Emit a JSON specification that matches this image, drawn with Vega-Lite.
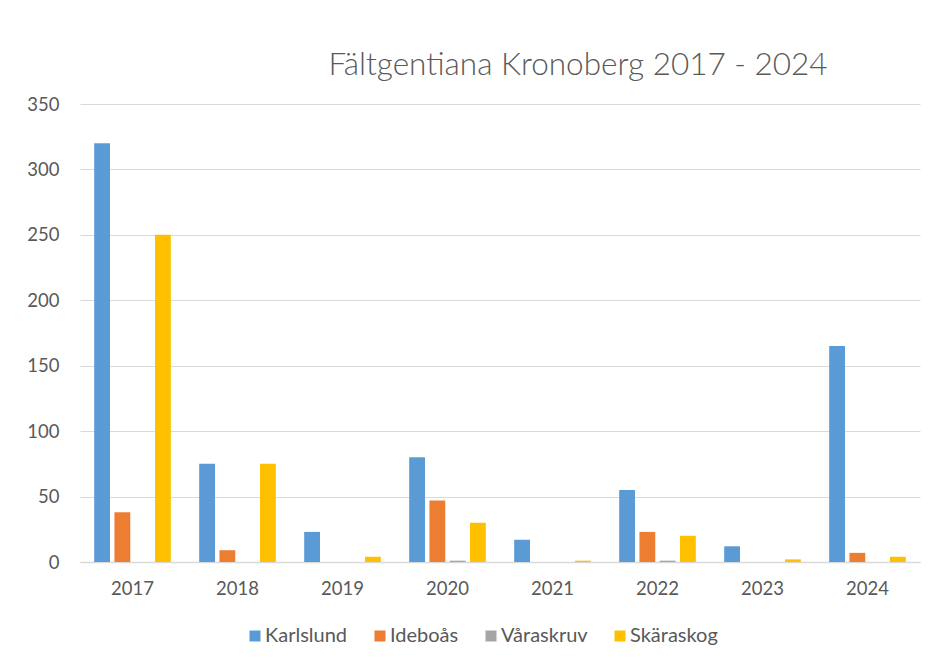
{
  "$schema": "https://vega.github.io/schema/vega-lite/v6.json",
  "width": 840,
  "height": 458,
  "autosize": {"type": "none"},
  "padding": {"left": 80, "top": 104, "right": 11, "bottom": 106},
  "background": "white",
  "title": {
    "text": "Fältgentiana Kronoberg 2017 - 2024",
    "font": "Lato",
    "fontSize": 31.5,
    "fontWeight": 300,
    "color": "#595959",
    "anchor": "middle",
    "dx": 78,
    "offset": 14
  },
  "data": {
    "values": [
      {"year": "2017", "site": "Karlslund", "count": 320},
      {"year": "2017", "site": "Ideboås", "count": 38},
      {"year": "2017", "site": "Våraskruv", "count": 0},
      {"year": "2017", "site": "Skäraskog", "count": 250},
      {"year": "2018", "site": "Karlslund", "count": 75},
      {"year": "2018", "site": "Ideboås", "count": 9},
      {"year": "2018", "site": "Våraskruv", "count": 0},
      {"year": "2018", "site": "Skäraskog", "count": 75},
      {"year": "2019", "site": "Karlslund", "count": 23},
      {"year": "2019", "site": "Ideboås", "count": 0},
      {"year": "2019", "site": "Våraskruv", "count": 0},
      {"year": "2019", "site": "Skäraskog", "count": 4},
      {"year": "2020", "site": "Karlslund", "count": 80},
      {"year": "2020", "site": "Ideboås", "count": 47},
      {"year": "2020", "site": "Våraskruv", "count": 1},
      {"year": "2020", "site": "Skäraskog", "count": 30},
      {"year": "2021", "site": "Karlslund", "count": 17},
      {"year": "2021", "site": "Ideboås", "count": 0},
      {"year": "2021", "site": "Våraskruv", "count": 0},
      {"year": "2021", "site": "Skäraskog", "count": 1},
      {"year": "2022", "site": "Karlslund", "count": 55},
      {"year": "2022", "site": "Ideboås", "count": 23},
      {"year": "2022", "site": "Våraskruv", "count": 1},
      {"year": "2022", "site": "Skäraskog", "count": 20},
      {"year": "2023", "site": "Karlslund", "count": 12},
      {"year": "2023", "site": "Ideboås", "count": 0},
      {"year": "2023", "site": "Våraskruv", "count": 0},
      {"year": "2023", "site": "Skäraskog", "count": 2},
      {"year": "2024", "site": "Karlslund", "count": 165},
      {"year": "2024", "site": "Ideboås", "count": 7},
      {"year": "2024", "site": "Våraskruv", "count": 0},
      {"year": "2024", "site": "Skäraskog", "count": 4}
    ]
  },
  "mark": {"type": "bar"},
  "encoding": {
    "x": {
      "field": "year",
      "type": "nominal",
      "title": null,
      "scale": {"paddingInner": 0.27, "paddingOuter": 0.135},
      "axis": {
        "labelAngle": 0,
        "ticks": false,
        "domainColor": "#d9d9d9",
        "domainWidth": 1.5,
        "labelFont": "Lato",
        "labelFontSize": 18.5,
        "labelColor": "#595959",
        "labelPadding": 17,
        "grid": false
      }
    },
    "xOffset": {
      "field": "site",
      "type": "nominal",
      "sort": ["Karlslund", "Ideboås", "Våraskruv", "Skäraskog"],
      "scale": {"paddingInner": 0.22, "paddingOuter": 0}
    },
    "y": {
      "field": "count",
      "type": "quantitative",
      "title": null,
      "scale": {"domain": [0, 350], "nice": false},
      "axis": {
        "values": [0, 50, 100, 150, 200, 250, 300, 350],
        "ticks": false,
        "domain": false,
        "gridColor": "#d9d9d9",
        "gridWidth": 1.2,
        "labelFont": "Lato",
        "labelFontSize": 18.5,
        "labelColor": "#595959",
        "labelPadding": 21
      }
    },
    "color": {
      "field": "site",
      "type": "nominal",
      "sort": ["Karlslund", "Ideboås", "Våraskruv", "Skäraskog"],
      "scale": {
        "domain": ["Karlslund", "Ideboås", "Våraskruv", "Skäraskog"],
        "range": ["#5B9BD5", "#ED7D31", "#A5A5A5", "#FFC000"]
      },
      "legend": {
        "title": null,
        "orient": "none",
        "legendX": 165,
        "legendY": 522,
        "direction": "horizontal",
        "symbolType": "square",
        "symbolSize": 121,
        "symbolStrokeWidth": 0,
        "labelFont": "Lato",
        "labelFontSize": 20,
        "labelColor": "#595959",
        "labelOffset": 0,
        "columnPadding": 22
      }
    }
  },
  "config": {"view": {"stroke": null}}
}
